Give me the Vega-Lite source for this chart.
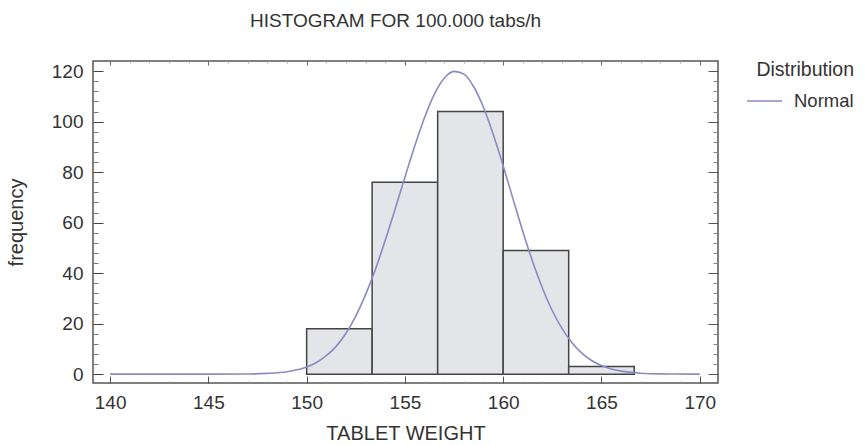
{
  "$schema": "https://vega.github.io/schema/vega-lite/v6.json",
  "autosize": "none",
  "padding": {"left": 93, "top": 61, "right": 147, "bottom": 62},
  "width": 625,
  "height": 322,
  "background": "white",
  "title": {
    "text": "HISTOGRAM FOR 100.000 tabs/h",
    "font": "Liberation Sans",
    "fontSize": 19,
    "fontWeight": "normal",
    "color": "#333333",
    "anchor": "middle",
    "frame": "group",
    "dx": -10,
    "offset": 30
  },
  "config": {
    "view": {"stroke": "#555555", "strokeWidth": 1.5},
    "axis": {
      "labelFont": "Liberation Sans",
      "titleFont": "Liberation Sans",
      "labelFontSize": 19,
      "titleFontSize": 20,
      "labelColor": "#333333",
      "titleColor": "#333333",
      "titleFontWeight": "normal",
      "grid": false,
      "domain": false
    },
    "legend": {
      "labelFont": "Liberation Sans",
      "titleFont": "Liberation Sans"
    }
  },
  "datasets": {
    "bars": [
      {"bin_start": 150.0, "bin_end": 153.333, "count": 18},
      {"bin_start": 153.333, "bin_end": 156.667, "count": 76},
      {"bin_start": 156.667, "bin_end": 160.0, "count": 104},
      {"bin_start": 160.0, "bin_end": 163.333, "count": 49},
      {"bin_start": 163.333, "bin_end": 166.667, "count": 3}
    ],
    "curve": [
      {"weight": 140, "density": 0, "dist": "Normal"},
      {"weight": 145, "density": 0.01, "dist": "Normal"},
      {"weight": 147, "density": 0.08, "dist": "Normal"},
      {"weight": 148, "density": 0.3, "dist": "Normal"},
      {"weight": 149, "density": 0.97, "dist": "Normal"},
      {"weight": 150, "density": 2.8, "dist": "Normal"},
      {"weight": 150.5, "density": 4.6, "dist": "Normal"},
      {"weight": 151, "density": 7.3, "dist": "Normal"},
      {"weight": 151.5, "density": 11.0, "dist": "Normal"},
      {"weight": 152, "density": 16.2, "dist": "Normal"},
      {"weight": 152.5, "density": 23.0, "dist": "Normal"},
      {"weight": 153, "density": 31.5, "dist": "Normal"},
      {"weight": 153.5, "density": 41.5, "dist": "Normal"},
      {"weight": 154, "density": 53.0, "dist": "Normal"},
      {"weight": 154.5, "density": 65.3, "dist": "Normal"},
      {"weight": 155, "density": 78.0, "dist": "Normal"},
      {"weight": 155.5, "density": 90.3, "dist": "Normal"},
      {"weight": 156, "density": 101.6, "dist": "Normal"},
      {"weight": 156.5, "density": 110.9, "dist": "Normal"},
      {"weight": 157, "density": 117.2, "dist": "Normal"},
      {"weight": 157.5, "density": 119.9, "dist": "Normal"},
      {"weight": 158, "density": 118.8, "dist": "Normal"},
      {"weight": 158.5, "density": 113.8, "dist": "Normal"},
      {"weight": 159, "density": 105.6, "dist": "Normal"},
      {"weight": 159.5, "density": 94.8, "dist": "Normal"},
      {"weight": 160, "density": 82.5, "dist": "Normal"},
      {"weight": 160.5, "density": 69.4, "dist": "Normal"},
      {"weight": 161, "density": 56.5, "dist": "Normal"},
      {"weight": 161.5, "density": 44.5, "dist": "Normal"},
      {"weight": 162, "density": 34.0, "dist": "Normal"},
      {"weight": 162.5, "density": 25.1, "dist": "Normal"},
      {"weight": 163, "density": 18.0, "dist": "Normal"},
      {"weight": 163.5, "density": 12.4, "dist": "Normal"},
      {"weight": 164, "density": 8.3, "dist": "Normal"},
      {"weight": 164.5, "density": 5.4, "dist": "Normal"},
      {"weight": 165, "density": 3.4, "dist": "Normal"},
      {"weight": 165.5, "density": 2.05, "dist": "Normal"},
      {"weight": 166, "density": 1.21, "dist": "Normal"},
      {"weight": 167, "density": 0.38, "dist": "Normal"},
      {"weight": 168, "density": 0.1, "dist": "Normal"},
      {"weight": 170, "density": 0, "dist": "Normal"}
    ]
  },
  "layer": [
    {
      "data": {"name": "bars"},
      "mark": {"type": "rect", "fill": "#e4e5e8", "stroke": "#444444", "strokeWidth": 1.5},
      "encoding": {
        "x": {
          "field": "bin_start", "type": "quantitative",
          "scale": {"domain": [139.13, 170.93], "nice": false, "zero": false},
          "axis": {
            "orient": "bottom",
            "title": "TABLET WEIGHT",
            "titlePadding": 11,
            "values": [140,141,142,143,144,145,146,147,148,149,150,151,152,153,154,155,156,157,158,159,160,161,162,163,164,165,166,167,168,169,170],
            "labelExpr": "datum.value % 5 === 0 ? datum.label : ''",
            "tickSize": {"condition": {"test": "datum.value % 5 === 0", "value": -7}, "value": -2},
            "tickColor": {"condition": {"test": "datum.value % 5 === 0", "value": "#555555"}, "value": "#999999"},
            "labelPadding": 17,
            "labelFlush": false
          }
        },
        "x2": {"field": "bin_end"},
        "y": {
          "field": "count", "type": "quantitative",
          "scale": {"domain": [-3.5, 124], "nice": false, "zero": false},
          "axis": {
            "orient": "left",
            "title": "frequency",
            "titlePadding": 25,
            "values": [0,4,8,12,16,20,24,28,32,36,40,44,48,52,56,60,64,68,72,76,80,84,88,92,96,100,104,108,112,116,120],
            "labelExpr": "datum.value % 20 === 0 ? datum.label : ''",
            "tickSize": {"condition": {"test": "datum.value % 20 === 0", "value": -10}, "value": -5},
            "tickColor": {"condition": {"test": "datum.value % 20 === 0", "value": "#444444"}, "value": "#777777"},
            "labelPadding": 20
          }
        },
        "y2": {"datum": 0}
      }
    },
    {
      "data": {"name": "curve"},
      "mark": {"type": "line", "strokeWidth": 1.6, "interpolate": "monotone"},
      "encoding": {
        "x": {
          "field": "weight", "type": "quantitative",
          "axis": {
            "orient": "top",
            "title": null,
            "values": [140,141,142,143,144,145,146,147,148,149,150,151,152,153,154,155,156,157,158,159,160,161,162,163,164,165,166,167,168,169,170],
            "labels": false,
            "tickSize": {"condition": {"test": "datum.value % 5 === 0", "value": -4}, "value": -2},
            "tickColor": {"condition": {"test": "datum.value % 5 === 0", "value": "#666666"}, "value": "#aaaaaa"}
          }
        },
        "y": {
          "field": "density", "type": "quantitative",
          "axis": {
            "orient": "right",
            "title": null,
            "values": [0,4,8,12,16,20,24,28,32,36,40,44,48,52,56,60,64,68,72,76,80,84,88,92,96,100,104,108,112,116,120],
            "labels": false,
            "tickSize": {"condition": {"test": "datum.value % 20 === 0", "value": -10}, "value": -5},
            "tickColor": {"condition": {"test": "datum.value % 20 === 0", "value": "#555555"}, "value": "#888888"}
          }
        },
        "color": {
          "field": "dist", "type": "nominal",
          "scale": {"range": ["#8a8ac6"]},
          "legend": {
            "title": "Distribution",
            "orient": "none",
            "legendX": 653,
            "legendY": 0,
            "titleFontSize": 19.5,
            "titleFontWeight": "normal",
            "titleColor": "#333333",
            "titleAnchor": "end",
            "titlePadding": 2,
            "labelFontSize": 18.5,
            "labelColor": "#333333",
            "symbolType": "stroke",
            "symbolSize": 1225,
            "symbolStrokeWidth": 1.5,
            "labelOffset": 11
          }
        }
      }
    }
  ],
  "resolve": {"axis": {"x": "independent", "y": "independent"}}
}
